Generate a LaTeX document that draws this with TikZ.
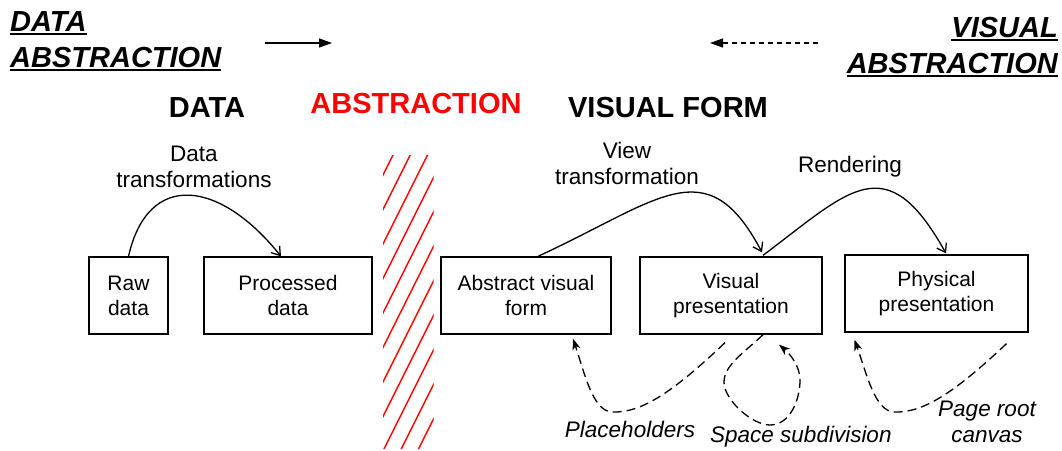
\documentclass[tikz,border=0pt]{standalone}
\usepackage{fontspec}
\setmainfont{Liberation Sans}
\usetikzlibrary{arrows.meta,calc}
\begin{document}
\begin{tikzpicture}[x=1pt,y=-1pt,
  title/.style={font=\fontsize{29}{34}\selectfont\bfseries\itshape, inner sep=0pt},
  head/.style={font=\fontsize{29}{34}\selectfont\bfseries, inner sep=0pt, anchor=base},
  lbl/.style={font=\fontsize{22.5}{26}\selectfont, inner sep=0pt, align=center},
  ilbl/.style={font=\fontsize{22.5}{26}\selectfont\itshape, inner sep=0pt, align=center},
  box/.style={draw, line width=1.3pt, inner sep=0pt, align=center, font=\fontsize{21}{25}\selectfont},
  uline/.style={line width=2pt},
  flow/.style={line width=1.3pt, -{Straight Barb[length=8pt,width=11pt,line width=1.3pt]}},
  fb/.style={line width=1.3pt, dash pattern=on 9pt off 5pt, -{Stealth[length=11pt,width=8pt,inset=3pt]}},
  hatch/.style={red, line width=1.4pt}]
\useasboundingbox (0,0) rectangle (1062,450);

% titles
\node[title, anchor=base west] (t1) at (10,31) {DATA};
\node[title, anchor=base west] (t2) at (10,67) {ABSTRACTION};
\node[title, anchor=base east] (t3) at (1058,37) {VISUAL};
\node[title, anchor=base east] (t4) at (1058,73) {ABSTRACTION};
\foreach \n in {t1,t2,t3,t4}
  \draw[uline] ([yshift=-3pt]\n.base west) -- ([yshift=-3pt]\n.base east);

\coordinate (da1) at (265,43);
\coordinate (da2) at (332,43);
\draw[line width=1.3pt, -{Triangle[length=13pt,width=9pt]}] (da1) -- (da2);
\coordinate (va1) at (818,43);
\coordinate (va2) at (710,43);
\draw[line width=1.3pt, dash pattern=on 5pt off 4pt, -{Triangle[length=13pt,width=9pt]}] (va1) -- (va2);

% headings
\node[head] (hdata) at (207,117) {DATA};
\node[head, text=red] (habs) at (416,113) {ABSTRACTION};
\node[head] (hvis) at (668,117) {VISUAL FORM};

% hatching
\begin{scope}
  \clip (383,155.5) rectangle (433.5,448.5);
  \foreach \k in {0,...,10} {
    \pgfmathsetmacro{\c}{941+34.5*\k}
    \draw[hatch] (370,\c-740) -- (450,\c-900);
  }
\end{scope}

% boxes
\node[box, minimum width=79pt, minimum height=77pt] (raw) at (128.5,295.5) {Raw\\data};
\node[box, minimum width=168pt, minimum height=77pt] (proc) at (288,295.5) {Processed\\data};
\node[box, minimum width=170pt, minimum height=77pt] (abs) at (526,295.5) {Abstract visual\\form};
\node[box, minimum width=182pt, minimum height=77pt] (vis) at (731,295.5) {Visual\\presentation};
\node[box, minimum width=183pt, minimum height=77pt] (phys) at (936.5,293.5) {Physical\\presentation};

% labels
\node[lbl] (ldt) at (194,167) {Data\\transformations};
\node[lbl] (lvt) at (627,163.5) {View\\transformation};
\node[lbl, anchor=base] (lrn) at (850,172) {Rendering};
\node[ilbl, anchor=base] (lph) at (630,437) {Placeholders};
\node[ilbl, anchor=base west] (lss) at (710,442) {Space subdivision};
\node[ilbl] (lpr) at (987,422) {Page root\\canvas};

% flow arrows
\draw[flow] (raw.north) .. controls (148,170) and (220,180) .. ([xshift=-7pt]proc.north);
\draw[flow] ([xshift=12pt]abs.north) .. controls (660,200) and (707,148) .. ([xshift=31pt,yshift=4pt]vis.north);
\draw[flow] ([xshift=32pt,yshift=1pt]vis.north) .. controls (850,190) and (886,146) .. ([xshift=9.5pt,yshift=1pt]phys.north);

% feedback arrows
\draw[fb] ([xshift=-6pt,yshift=-8pt]vis.south) .. controls (670,395) and (640,413) .. (612,412)
   .. controls (593,411) and (585,375) .. ([xshift=47pt,yshift=-4pt]abs.south);
\draw[fb] ([xshift=32pt]vis.south) .. controls (745,352) and (724,365) .. (724,382)
   .. controls (724,400) and (752,425) .. (770,425)
   .. controls (790,425) and (800,400) .. (800,380)
   .. controls (800,366) and (790,354) .. ([xshift=48pt,yshift=-10pt]vis.south);
\draw[fb] ([xshift=70pt,yshift=-11pt]phys.south) .. controls (952,395) and (922,413) .. (894,412)
   .. controls (875,411) and (867,375) .. ([xshift=-82pt,yshift=-7pt]phys.south);
\end{tikzpicture}
\end{document}
